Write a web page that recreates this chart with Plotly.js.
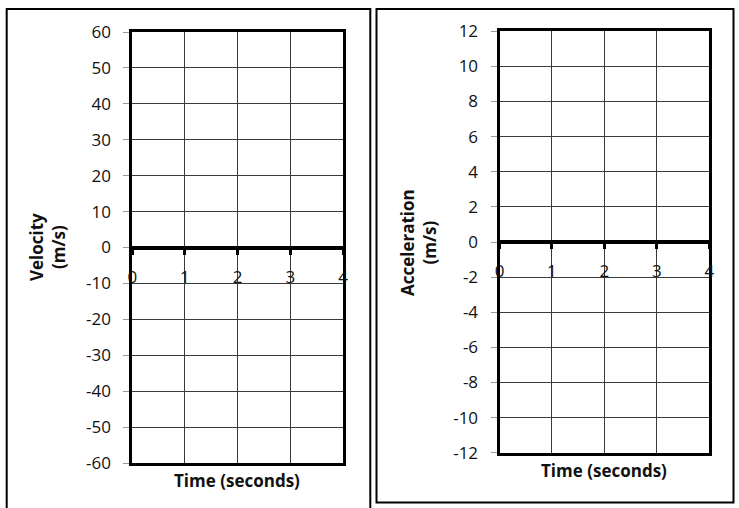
<!DOCTYPE html>
<html>
<head>
<meta charset="utf-8">
<script src="https://cdn.plot.ly/plotly-3.0.1.min.js"></script>
<style>html,body{margin:0;padding:0;background:#fff;}#chart{width:739px;height:508px;}</style>
</head>
<body>
<div id="chart"></div>
<script>
// Data (tick values / ranges)
var timeTicks = [0, 1, 2, 3, 4];
var timeLabels = ['0', '1', '2', '3', '4'];
var velocityTicks = [-60, -50, -40, -30, -20, -10, 0, 10, 20, 30, 40, 50, 60];
var accelTicks = [-12, -10, -8, -6, -4, -2, 0, 2, 4, 6, 8, 10, 12];
var timeRange = [0, 4];
var velocityRange = [-60, 60];
var accelRange = [-12, 12];
var velocityTitle = 'Velocity<br>(m/s)';
var accelTitle = 'Acceleration<br>(m/s)';
var timeTitle = 'Time (seconds)';

var W = 739, H = 508;
function px(x) { return x / W; }
function py(y) { return 1 - y / H; }

var FONT = '"Open Sans", Lato, sans-serif';
var grid = '#3a3a3a';

var leftX = [px(132.3), px(343)];
var leftY = [py(463), py(32)];
var rightX = [px(499.5), px(709.3)];
var rightY = [py(452.7), py(31.3)];

function frameX(domain, anchor) {
  return {
    domain: domain, anchor: anchor, range: timeRange,
    tickvals: timeTicks, showticklabels: false, ticks: '',
    showgrid: true, gridcolor: grid, gridwidth: 1,
    showline: true, mirror: true, linewidth: 3, linecolor: '#000',
    zeroline: false, fixedrange: true
  };
}
function frameY(domain, anchor, range, ticks) {
  return {
    domain: domain, anchor: anchor, range: range,
    tickvals: ticks, ticktext: ticks.map(String),
    ticks: 'outside', ticklen: 6, tickwidth: 1, tickcolor: '#999',
    ticklabelstandoff: 9,
    tickfont: {family: FONT, size: 17, color: '#111'},
    showgrid: true, gridcolor: grid, gridwidth: 1,
    showline: true, mirror: true, linewidth: 3, linecolor: '#000',
    zeroline: true, zerolinecolor: '#000', zerolinewidth: 4,
    fixedrange: true
  };
}
function zeroX(overlay, domainY) {
  return {
    overlaying: overlay, anchor: 'free', position: (domainY[0] + domainY[1]) / 2,
    range: timeRange, tickvals: timeTicks, ticktext: timeLabels,
    ticks: 'outside', ticklen: 6, tickwidth: 3, tickcolor: '#000',
    ticklabelstandoff: 8,
    tickfont: {family: FONT, size: 17, color: '#111'},
    showgrid: false, showline: false, zeroline: false, fixedrange: true
  };
}

var traces = [
  {x: [], y: [], type: 'scatter', mode: 'lines', xaxis: 'x', yaxis: 'y', showlegend: false},
  {x: [], y: [], type: 'scatter', mode: 'lines', xaxis: 'x2', yaxis: 'y2', showlegend: false},
  {x: [], y: [], type: 'scatter', mode: 'lines', xaxis: 'x3', yaxis: 'y', showlegend: false},
  {x: [], y: [], type: 'scatter', mode: 'lines', xaxis: 'x4', yaxis: 'y2', showlegend: false}
];

var titleFont = {family: FONT, size: 17, color: '#111', weight: 'bold'};

var layout = {
  width: W, height: H,
  margin: {l: 0, r: 0, t: 0, b: 0, pad: 0},
  paper_bgcolor: '#fff', plot_bgcolor: '#fff',
  showlegend: false,
  xaxis: frameX(leftX, 'y'),
  yaxis: frameY(leftY, 'x', velocityRange, velocityTicks),
  xaxis2: frameX(rightX, 'y2'),
  yaxis2: frameY(rightY, 'x2', accelRange, accelTicks),
  xaxis3: zeroX('x', leftY),
  xaxis4: zeroX('x2', rightY),
  shapes: [
    {type: 'rect', xref: 'paper', yref: 'paper', x0: px(6.7), x1: px(370.3), y0: -0.05, y1: py(9),
     line: {color: '#000', width: 2}, fillcolor: 'rgba(0,0,0,0)', layer: 'below'},
    {type: 'rect', xref: 'paper', yref: 'paper', x0: px(376.5), x1: px(733.5), y0: py(502.5), y1: py(9),
     line: {color: '#000', width: 2}, fillcolor: 'rgba(0,0,0,0)', layer: 'below'}
  ],
  annotations: [
    {text: '<b>' + velocityTitle + '</b>', xref: 'paper', yref: 'paper', x: px(47), y: py(247),
     xanchor: 'center', yanchor: 'middle', textangle: -90, showarrow: false, font: titleFont},
    {text: '<b>' + accelTitle + '</b>', xref: 'paper', yref: 'paper', x: px(418), y: py(242),
     xanchor: 'center', yanchor: 'middle', textangle: -90, showarrow: false, font: titleFont},
    {text: '<b>' + timeTitle + '</b>', xref: 'paper', yref: 'paper', x: px(237), y: py(480),
     xanchor: 'center', yanchor: 'middle', showarrow: false, font: titleFont},
    {text: '<b>' + timeTitle + '</b>', xref: 'paper', yref: 'paper', x: px(604), y: py(470),
     xanchor: 'center', yanchor: 'middle', showarrow: false, font: titleFont}
  ]
};

Plotly.newPlot('chart', traces, layout, {staticPlot: true, displayModeBar: false});
</script>
</body>
</html>
